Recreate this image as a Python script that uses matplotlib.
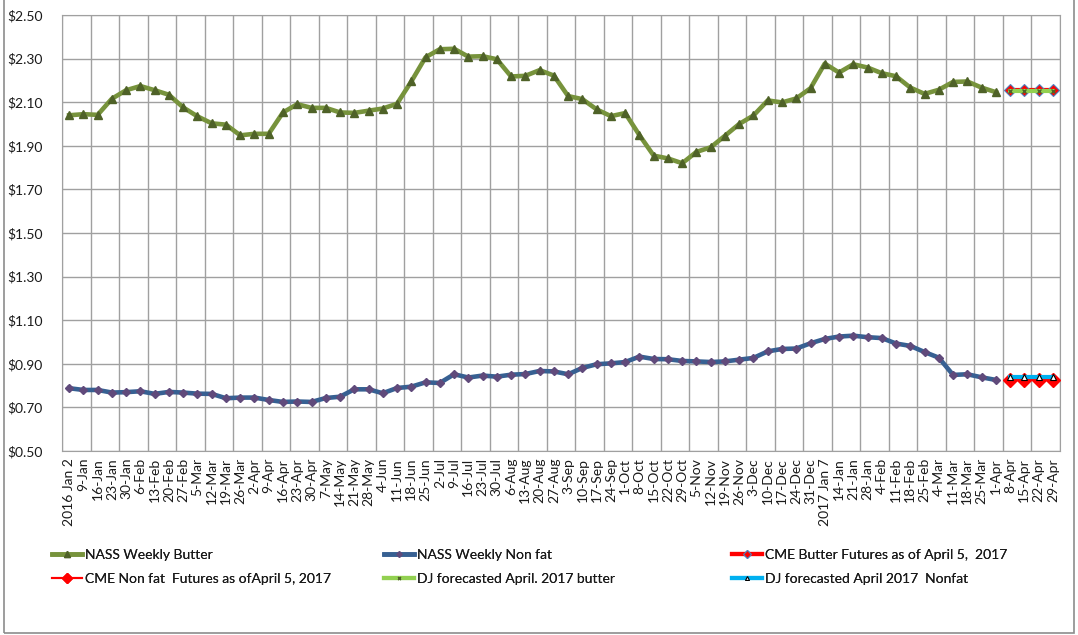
import matplotlib
matplotlib.use("Agg")
import matplotlib.pyplot as plt
from matplotlib.patches import Rectangle

plt.rcParams['font.family'] = ['Lato', 'DejaVu Sans']

# Week labels (2016 Jan 2 .. 2017 Apr 29)
weeks = ["2016 Jan 2", "9-Jan", "16-Jan", "23-Jan", "30-Jan", "6-Feb", "13-Feb", "20-Feb",
         "27-Feb", "5-Mar", "12-Mar", "19-Mar", "26-Mar", "2-Apr", "9-Apr", "16-Apr",
         "23-Apr", "30-Apr", "7-May", "14-May", "21-May", "28-May", "4-Jun", "11-Jun",
         "18-Jun", "25-Jun", "2-Jul", "9-Jul", "16-Jul", "23-Jul", "30-Jul", "6-Aug",
         "13-Aug", "20-Aug", "27-Aug", "3-Sep", "10-Sep", "17-Sep", "24-Sep", "1-Oct",
         "8-Oct", "15-Oct", "22-Oct", "29-Oct", "5-Nov", "12-Nov", "19-Nov", "26-Nov",
         "3-Dec", "10-Dec", "17-Dec", "24-Dec", "31-Dec", "2017 Jan 7", "14-Jan", "21-Jan",
         "28-Jan", "4-Feb", "11-Feb", "18-Feb", "25-Feb", "4-Mar", "11-Mar", "18-Mar",
         "25-Mar", "1-Apr", "8-Apr", "15-Apr", "22-Apr", "29-Apr"]

# NASS weekly prices ($/lb)
butter = [2.040, 2.045, 2.042, 2.116, 2.155, 2.174, 2.155, 2.134, 2.076, 2.035,
          2.003, 1.997, 1.948, 1.955, 1.955, 2.053, 2.091, 2.074, 2.074, 2.053,
          2.051, 2.061, 2.071, 2.093, 2.195, 2.306, 2.343, 2.345, 2.309, 2.311,
          2.297, 2.218, 2.221, 2.247, 2.222, 2.128, 2.114, 2.067, 2.036, 2.050,
          1.949, 1.855, 1.842, 1.820, 1.872, 1.893, 1.946, 2.000, 2.039, 2.108,
          2.099, 2.117, 2.164, 2.277, 2.236, 2.274, 2.259, 2.233, 2.219, 2.167,
          2.138, 2.157, 2.193, 2.195, 2.167, 2.146]
nonfat = [0.788, 0.780, 0.780, 0.768, 0.770, 0.774, 0.762, 0.771, 0.768, 0.763,
          0.762, 0.742, 0.745, 0.745, 0.734, 0.725, 0.727, 0.725, 0.743, 0.749,
          0.783, 0.783, 0.765, 0.789, 0.795, 0.815, 0.812, 0.852, 0.837, 0.846,
          0.841, 0.850, 0.853, 0.867, 0.865, 0.852, 0.881, 0.898, 0.902, 0.908,
          0.933, 0.922, 0.921, 0.913, 0.911, 0.908, 0.911, 0.919, 0.927, 0.957,
          0.968, 0.970, 0.994, 1.014, 1.025, 1.029, 1.022, 1.018, 0.993, 0.982,
          0.954, 0.928, 0.849, 0.852, 0.838, 0.826]

# Forecasts for April 2017
cme_butter = [2.155, 2.155, 2.155, 2.155]
cme_nonfat = [0.826, 0.826, 0.826, 0.826]
dj_butter = [2.150, 2.150, 2.150, 2.150]
dj_nonfat = [0.838, 0.838, 0.838, 0.838]

n_hist = len(butter)
x_hist = list(range(n_hist))
x_fc = list(range(n_hist, len(weeks)))

fig = plt.figure(figsize=(10.78, 6.35), dpi=100)
ax = fig.add_axes([62 / 1078, 184 / 635, 998 / 1078, 436 / 635])

grid_c = '#A0A0A0'
h1, = ax.plot(x_hist, butter, color='#77933C', lw=3.3, marker='^', ms=5.5,
              mfc='#4F6228', mec='#4F6228', label='NASS Weekly Butter', zorder=3)
h2, = ax.plot(x_hist, nonfat, color='#376092', lw=3.3, marker='D', ms=4,
              mfc='#604A7B', mec='#604A7B', label='NASS Weekly Non fat', zorder=3)
h3, = ax.plot(x_fc, cme_butter, color='#FF0000', lw=3, marker='D', ms=6,
              mfc='#FF0000', mec='#4F81BD', mew=0.8,
              label='CME Butter Futures as of April 5,  2017', zorder=4)
h4, = ax.plot(x_fc, cme_nonfat, color='#FF0000', lw=1.5, marker='D', ms=7,
              mfc='#FF0000', mec='#FF0000',
              label='CME Non fat  Futures as ofApril 5, 2017', zorder=4)
h5, = ax.plot(x_fc, dj_butter, color='#92D050', lw=3, marker='x', ms=3,
              mec='#4F6228', mew=1, label='DJ forecasted April. 2017 butter', zorder=5)
h6, = ax.plot(x_fc, dj_nonfat, color='#00B0F0', lw=3, marker='^', ms=4,
              mfc='white', mec='black', mew=0.8,
              label='DJ forecasted April 2017  Nonfat', zorder=5)

ax.set_xlim(-0.5, len(weeks) - 0.5)
ax.set_ylim(0.5, 2.5)
yt = [0.5 + 0.2 * i for i in range(11)]
ax.set_yticks(yt)
ax.set_yticklabels(['${:.2f}'.format(v) for v in yt], fontsize=10)
ax.set_xticks(range(len(weeks)))
ax.set_xticklabels(weeks, rotation=90, fontsize=10)
ax.set_xticks([i - 0.5 for i in range(0, len(weeks) + 1, 2)], minor=True)
ax.tick_params(axis='both', which='both', length=0, colors='#1A1A1A')
ax.tick_params(axis='y', pad=14)
ax.tick_params(axis='x', pad=5)
ax.grid(True, axis='y', which='major', color=grid_c, lw=1)
ax.grid(True, axis='x', which='minor', color=grid_c, lw=1)
ax.grid(False, axis='x', which='major')
ax.set_axisbelow(True)
for s in ax.spines.values():
    s.set_color(grid_c)

# Legend in three columns below the chart
cols = [([h1, h4], 46), ([h2, h5], 378), ([h3, h6], 726)]
for hs, xpx in cols:
    leg = fig.legend(handles=hs, loc='upper left', bbox_to_anchor=(xpx / 1078, 1 - 543 / 635),
                     frameon=False, fontsize=10, handlelength=2.2, handletextpad=0.2,
                     labelspacing=0.9, borderaxespad=0, markerscale=0.7)
    for t in leg.get_texts():
        t.set_color('#1A1A1A')
    fig.add_artist(leg)

# Chart border
fig.patches.append(Rectangle((4 / 1078, 2 / 635), 1 - 8 / 1078, 1.2, transform=fig.transFigure,
                             fill=False, ec='#8C8C8C', lw=1.2))

fig.savefig('out.png', dpi=100)
